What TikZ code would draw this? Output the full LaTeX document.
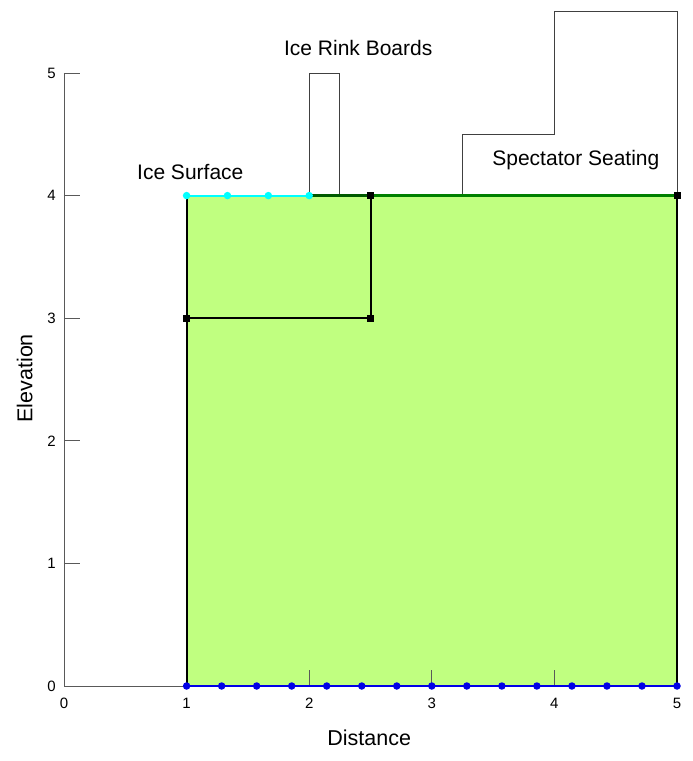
\documentclass[tikz,border=0pt]{standalone}
\usepackage{fontspec}
\setmainfont{Liberation Sans}
\begin{document}
\begin{tikzpicture}[x=122.6pt,y=122.6pt,
  axisline/.style={draw=black!65,line width=0.9pt},
  tickline/.style={draw=black!65,line width=0.9pt},
  ticklab/.style={font=\fontsize{15}{17}\selectfont,inner sep=0pt},
  axislab/.style={font=\fontsize{21.5}{25}\selectfont,inner sep=0pt},
  annot/.style={font=\fontsize{21}{25}\selectfont,inner sep=0pt},
  outline/.style={draw=black!75,line width=0.9pt},
  regionedge/.style={draw=black,line width=2pt},
  cyandot/.style={circle,fill=icecyan,inner sep=0pt,minimum size=7.5pt},
  bluedot/.style={circle,fill=baseblue,inner sep=0pt,minimum size=7.5pt},
  blacksq/.style={rectangle,fill=black,inner sep=0pt,minimum size=7pt}]
\definecolor{regfill}{RGB}{192,255,128}
\definecolor{topgreen}{RGB}{0,128,0}
\definecolor{darkgreen}{RGB}{0,90,0}
\definecolor{icecyan}{RGB}{0,255,255}
\definecolor{baseblue}{RGB}{0,0,230}
\useasboundingbox (-64pt,-75pt) rectangle (629pt,686pt);
% region
\coordinate (A) at (1,0);
\coordinate (B) at (5,0);
\coordinate (C) at (5,4);
\coordinate (D) at (1,4);
\coordinate (E) at (1,3);
\coordinate (F) at (2.5,3);
\coordinate (G) at (2.5,4);
\coordinate (H) at (2,4);
\fill[regfill] (A) rectangle (C);
% axes
\draw[axisline] (0,5) -- (0,0) -- (5,0);
\foreach \i in {1,...,5} {
  \draw[tickline] (\i,0) -- ++(0,16pt);
  \draw[tickline] (0,\i) -- ++(16pt,0);
}
\foreach \i in {0,...,5} {
  \node[ticklab] (xl\i) at ([yshift=-17.5pt]\i,0) {\i};
  \node[ticklab,anchor=east] (yl\i) at ([xshift=-8pt]0,\i) {\i};
}
% outlines of boards and seating
\draw[outline] (2,4) -- (2,5) -- (2.25,5) -- (2.25,4);
\draw[outline] (3.25,4) -- (3.25,4.5) -- (4,4.5) -- (4,5.5) -- (5,5.5) -- (5,4);
% region edges
\draw[regionedge] (A) -- (D);
\draw[regionedge] (B) -- (C);
\draw[regionedge] (E) -- (F) -- (G);
\draw[darkgreen,line width=3pt] (H) -- (G);
\draw[topgreen,line width=3pt] (G) -- (C);
\draw[icecyan,line width=2pt] (D) -- (H);
\draw[baseblue,line width=2.5pt] (A) -- (B);
% points
\foreach \k in {0,...,3} \node[cyandot] (c\k) at ({1+\k/3},4) {};
\foreach \k in {0,...,14} \node[bluedot] (b\k) at ({1+\k*4/14},0) {};
\node[blacksq] (s1) at (E) {};
\node[blacksq] (s2) at (F) {};
\node[blacksq] (s3) at (G) {};
\node[blacksq] (s4) at (C) {};
% labels
\node[annot] (ice) at (1.03,4.19) {Ice Surface};
\node[annot] (boards) at (2.4,5.2) {Ice Rink Boards};
\node[annot] (seat) at (4.175,4.29) {Spectator Seating};
\node[axislab] (dist) at (2.49,-0.42) {Distance};
\node[axislab,rotate=90] (elev) at (-0.32,2.51) {Elevation};
\end{tikzpicture}
\end{document}
